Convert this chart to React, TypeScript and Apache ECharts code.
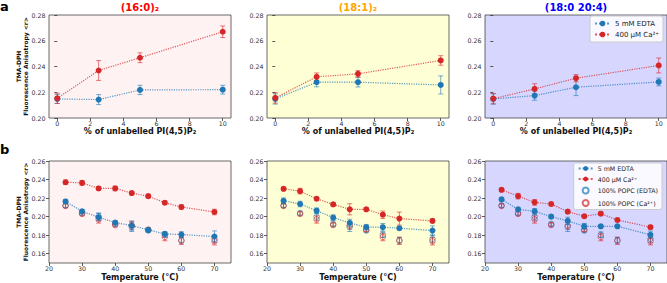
import React, { useEffect, useRef } from 'react';
import * as echarts from 'echarts';

// ---------- data ----------
const pctX = [0, 2.5, 5, 10];
const tempX = [25, 30, 35, 40, 45, 50, 55, 60, 70];
const pctTicks = [0, 2, 4, 6, 8, 10];
const tempTicks = [20, 30, 40, 50, 60, 70];
const topYTicks = [0.2, 0.22, 0.24, 0.26, 0.28];
const botYTicks = [0.16, 0.18, 0.2, 0.22, 0.24, 0.26];

const panelTitles = ['(16:0)₂', '(18:1)₂', '(18:0 20:4)'];
const seriesNames = ['5 mM EDTA', '400 μM Ca²⁺', '100% POPC (EDTA)', '100% POPC (Ca²⁺)'];

const a1Edta = [0.2148, 0.2143, 0.2218, 0.222];
const a1EdtaErr = [0.0035, 0.0039, 0.0036, 0.0034];
const a1Ca = [0.2153, 0.2369, 0.2468, 0.267];
const a1CaErr = [0.004, 0.0077, 0.0038, 0.0045];

const a2Edta = [0.2148, 0.2278, 0.2278, 0.2257];
const a2EdtaErr = [0.004, 0.0036, 0.0037, 0.007];
const a2Ca = [0.2156, 0.232, 0.2343, 0.2447];
const a2CaErr = [0.004, 0.003, 0.0025, 0.0037];

const a3Edta = [0.2148, 0.2174, 0.2239, 0.228];
const a3EdtaErr = [0.004, 0.0036, 0.0065, 0.003];
const a3Ca = [0.215, 0.2226, 0.2309, 0.2408];
const a3CaErr = [0.004, 0.004, 0.0028, 0.0058];

const b1Edta = [0.2164, 0.2057, 0.1993, 0.1936, 0.1904, 0.1857, 0.1814, 0.1807, 0.1786];
const b1EdtaErr = [0.002, 0.002, 0.004, 0.002, 0.005, 0.002, 0.002, 0.003, 0.006];
const b1Ca = [0.2371, 0.2364, 0.2304, 0.2304, 0.2254, 0.2221, 0.215, 0.2104, 0.205];
const b1CaErr = [0.0025, 0.0025, 0.002, 0.0025, 0.002, 0.002, 0.002, 0.0025, 0.003];

const b2Edta = [0.2171, 0.2136, 0.2064, 0.1989, 0.1932, 0.1886, 0.1886, 0.1875, 0.185];
const b2EdtaErr = [0.003, 0.003, 0.003, 0.003, 0.004, 0.003, 0.004, 0.002, 0.005];
const b2Ca = [0.23, 0.2275, 0.2193, 0.2132, 0.2079, 0.2079, 0.2021, 0.1979, 0.1954];
const b2CaErr = [0.002, 0.003, 0.002, 0.002, 0.006, 0.002, 0.004, 0.007, 0.002];

const b3Edta = [0.2186, 0.2079, 0.2057, 0.2, 0.1954, 0.1896, 0.1896, 0.1896, 0.1804];
const b3EdtaErr = [0.002, 0.002, 0.003, 0.002, 0.004, 0.003, 0.002, 0.002, 0.004];
const b3Ca = [0.2289, 0.2221, 0.2154, 0.2136, 0.2054, 0.2004, 0.2032, 0.1964, 0.1886];
const b3CaErr = [0.002, 0.003, 0.003, 0.002, 0.002, 0.002, 0.002, 0.002, 0.002];

const popcEdta = [0.212, 0.2038, 0.2, 0.192, 0.189, 0.185, 0.1805, 0.1745, 0.176];
const popcEdtaErr = [0.002, 0.002, 0.004, 0.002, 0.005, 0.002, 0.003, 0.003, 0.004];
const popcCa = [0.2116, 0.203, 0.197, 0.191, 0.1905, 0.186, 0.178, 0.174, 0.1735];
const popcCaErr = [0.002, 0.002, 0.004, 0.002, 0.004, 0.002, 0.004, 0.004, 0.004];

// ---------- styling ----------
const BLUE = '#1f77b4';
const RED = '#d62728';
const panelBg = ['#fff2f2', '#ffffd6', '#d6d6ff'];
const titleColors = ['#ff0000', '#ffa500', '#0000ff'];
const FONT = 'DejaVu Sans';
const lefts = [49, 267, 485];
const PW = 182;

function zip(xs: number[], ys: number[], es?: number[]) {
  return xs.map((x, i) => (es ? [x, ys[i], es[i]] : [x, ys[i]]));
}

function errSeries(gi: number, xs: number[], ys: number[], es: number[], color: string) {
  return {
    type: 'custom',
    name: 'err',
    xAxisIndex: gi,
    yAxisIndex: gi,
    z: 2,
    silent: true,
    data: zip(xs, ys, es),
    renderItem: (params: any, api: any) => {
      const x = api.value(0);
      const y = api.value(1);
      const e = api.value(2);
      const lo = api.coord([x, y - e]);
      const hi = api.coord([x, y + e]);
      const st = { stroke: color, lineWidth: 1, opacity: 0.6 };
      return {
        type: 'group',
        children: [
          { type: 'line', shape: { x1: lo[0], y1: lo[1], x2: hi[0], y2: hi[1] }, style: st },
          { type: 'line', shape: { x1: lo[0] - 2.5, y1: lo[1], x2: lo[0] + 2.5, y2: lo[1] }, style: st },
          { type: 'line', shape: { x1: hi[0] - 2.5, y1: hi[1], x2: hi[0] + 2.5, y2: hi[1] }, style: st },
        ],
      };
    },
  };
}

function lineSeries(gi: number, name: string, xs: number[], ys: number[], color: string) {
  return {
    type: 'line',
    name,
    xAxisIndex: gi,
    yAxisIndex: gi,
    z: 3,
    data: zip(xs, ys),
    symbol: 'circle',
    symbolSize: 6,
    itemStyle: { color },
    lineStyle: { color, type: 'dotted', width: 1.2, opacity: 0.75 },
  };
}

function openSeries(gi: number, name: string, xs: number[], ys: number[], color: string) {
  return {
    type: 'scatter',
    name,
    xAxisIndex: gi,
    yAxisIndex: gi,
    z: 2,
    data: zip(xs, ys),
    symbol: 'circle',
    symbolSize: 5.5,
    itemStyle: { color: 'rgba(255,255,255,0)', borderColor: color, borderWidth: 0.9, opacity: 0.7 },
  };
}

export default function App() {
  const ref = useRef<HTMLDivElement>(null);
  useEffect(() => {
    if (!ref.current) return;
    const chart = echarts.init(ref.current, undefined, { renderer: 'svg' });

    const grids: any[] = [];
    const xAxes: any[] = [];
    const yAxes: any[] = [];
    const tickStyle = { show: true, length: 3, lineStyle: { color: '#333', width: 0.8 } };

    for (let r = 0; r < 2; r++) {
      for (let c = 0; c < 3; c++) {
        const gi = r * 3 + c;
        grids.push({
          left: lefts[c],
          top: r === 0 ? 15 : 161,
          width: PW,
          height: r === 0 ? 103 : 102,
          show: true,
          backgroundColor: panelBg[c],
          borderColor: '#444',
          borderWidth: 0.8,
        });
        xAxes.push({
          gridIndex: gi,
          type: 'value',
          min: r === 0 ? -0.5 : 20,
          max: r === 0 ? 10.5 : 75,
          name: r === 0 ? '% of unlabelled PI(4,5)P₂' : 'Temperature (°C)',
          nameLocation: 'middle',
          nameGap: r === 0 ? 9 : 10,
          nameTextStyle: { fontFamily: FONT, fontSize: 8, fontWeight: 'bold', color: '#111' },
          axisLine: { show: false },
          axisTick: { ...tickStyle, customValues: r === 0 ? pctTicks : tempTicks },
          axisLabel: {
            fontFamily: FONT,
            fontSize: 6.3,
            color: '#333',
            margin: 2.5,
            customValues: r === 0 ? pctTicks : tempTicks,
            formatter: (v: number) => String(v),
          },
          splitLine: { show: false },
        });
        yAxes.push({
          gridIndex: gi,
          type: 'value',
          min: r === 0 ? 0.2 : 0.15,
          max: r === 0 ? 0.28 : 0.26,
          axisLine: { show: false },
          axisTick: { ...tickStyle, customValues: r === 0 ? topYTicks : botYTicks },
          axisLabel: {
            fontFamily: FONT,
            fontSize: 6.3,
            color: '#333',
            margin: 3.5,
            customValues: r === 0 ? topYTicks : botYTicks,
            formatter: (v: number) => v.toFixed(2),
          },
          splitLine: { show: false },
        });
      }
    }

    const topSets = [
      [a1Edta, a1EdtaErr, a1Ca, a1CaErr],
      [a2Edta, a2EdtaErr, a2Ca, a2CaErr],
      [a3Edta, a3EdtaErr, a3Ca, a3CaErr],
    ];
    const botSets = [
      [b1Edta, b1EdtaErr, b1Ca, b1CaErr],
      [b2Edta, b2EdtaErr, b2Ca, b2CaErr],
      [b3Edta, b3EdtaErr, b3Ca, b3CaErr],
    ];

    const series: any[] = [];
    topSets.forEach((s, c) => {
      series.push(errSeries(c, pctX, s[0], s[1], BLUE));
      series.push(errSeries(c, pctX, s[2], s[3], RED));
      series.push(lineSeries(c, seriesNames[0], pctX, s[0], BLUE));
      series.push(lineSeries(c, seriesNames[1], pctX, s[2], RED));
    });
    botSets.forEach((s, c) => {
      const gi = 3 + c;
      series.push(errSeries(gi, tempX, popcEdta, popcEdtaErr, BLUE));
      series.push(errSeries(gi, tempX, popcCa, popcCaErr, RED));
      series.push(openSeries(gi, seriesNames[2], tempX, popcEdta, BLUE));
      series.push(openSeries(gi, seriesNames[3], tempX, popcCa, RED));
      series.push(errSeries(gi, tempX, s[0], s[1], BLUE));
      series.push(errSeries(gi, tempX, s[2], s[3], RED));
      series.push(lineSeries(gi, seriesNames[0], tempX, s[0], BLUE));
      series.push(lineSeries(gi, seriesNames[1], tempX, s[2], RED));
    });

    const legendBase = {
      orient: 'vertical',
      backgroundColor: 'rgba(255,255,255,0.85)',
      borderColor: '#cccccc',
      borderWidth: 1,
      borderRadius: 2,
      align: 'left',
      selectedMode: false,
    };

    const graphics: any[] = [
      { type: 'text', x: 0, y: 0, style: { text: 'a', fontFamily: FONT, fontSize: 13, fontWeight: 'bold', fill: '#000', verticalAlign: 'top' } },
      { type: 'text', x: 0, y: 143, style: { text: 'b', fontFamily: FONT, fontSize: 13, fontWeight: 'bold', fill: '#000', verticalAlign: 'top' } },
    ];
    [66.5, 212].forEach((cy) => {
      graphics.push({
        type: 'text',
        x: 22,
        y: cy,
        rotation: Math.PI / 2,
        style: {
          text: 'TMA-DPH\nFluorescence Anisotropy <r>',
          fontFamily: FONT,
          fontSize: 6,
          lineHeight: 7,
          fontWeight: 'bold',
          fill: '#111',
          align: 'center',
          verticalAlign: 'middle',
        },
      });
    });
    panelTitles.forEach((t, c) => {
      graphics.push({
        type: 'text',
        x: lefts[c] + PW / 2,
        y: 7,
        style: {
          text: t,
          fontFamily: FONT,
          fontSize: 10,
          fontWeight: 'bold',
          fill: titleColors[c],
          align: 'center',
          verticalAlign: 'middle',
        },
      });
    });

    chart.setOption({
      animation: false,
      textStyle: { fontFamily: FONT },
      grid: grids,
      xAxis: xAxes,
      yAxis: yAxes,
      legend: [
        {
          ...legendBase,
          data: [seriesNames[0], seriesNames[1]],
          right: 4,
          top: 16,
          padding: [4, 4],
          itemWidth: 15,
          itemHeight: 7,
          itemGap: 4,
          textStyle: { fontFamily: FONT, fontSize: 7, color: '#222' },
        },
        {
          ...legendBase,
          data: seriesNames,
          right: 5,
          top: 163,
          padding: [2.5, 4],
          itemWidth: 14,
          itemHeight: 6,
          itemGap: 4.5,
          textStyle: { fontFamily: FONT, fontSize: 6.3, color: '#222' },
        },
      ],
      graphic: graphics,
      series,
    });

    return () => chart.dispose();
  }, []);

  return (
    <div
      ref={ref}
      style={{ position: 'absolute', left: 0, top: 0, width: 667, height: 283, background: '#fff' }}
    />
  );
}
